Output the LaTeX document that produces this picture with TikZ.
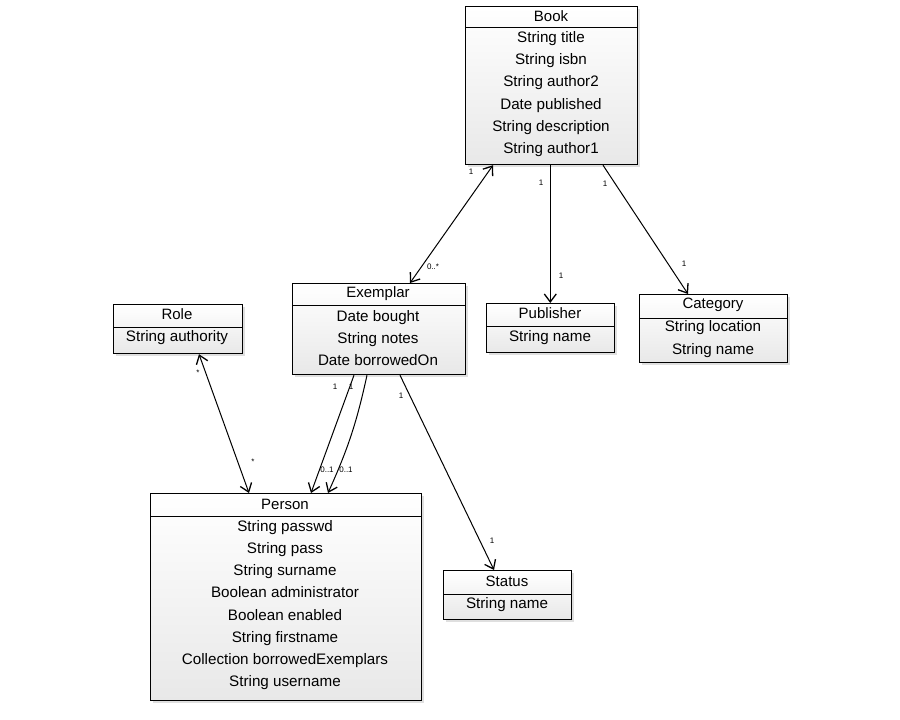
\documentclass[tikz,border=0pt]{standalone}
\usepackage{fontspec}
\setmainfont{Liberation Sans}
\usetikzlibrary{arrows.meta,shadows}
\begin{document}
\begin{tikzpicture}[x=1pt,y=-1pt,
  classbox/.style={draw=black, line width=1.2pt, top color=white, bottom color=black!9,
    drop shadow={opacity=0.25,shadow xshift=2.5pt,shadow yshift=-2.5pt},
    inner sep=0pt, anchor=north west},
  hdr/.style={line width=1pt},
  ttl/.style={font=\fontsize{15}{17}\selectfont, inner sep=0pt},
  attrs/.style={font=\fontsize{15.2}{22.2}\selectfont, align=center, inner sep=0pt},
  mult/.style={font=\fontsize{8}{9}\selectfont, inner sep=0pt},
  assoc/.style={line width=1pt, -{Straight Barb[length=8pt,width=12pt,line width=1.3pt]}},
  biassoc/.style={line width=1pt, {Straight Barb[length=8pt,width=12pt,line width=1.3pt]}-{Straight Barb[length=8pt,width=12pt,line width=1.3pt]}}
]
\useasboundingbox (0,0) rectangle (900,720);
\fill[white] (0,0) rectangle (900,720);

% Book
\node[classbox, minimum width=172pt, minimum height=158pt] (book) at (465,6) {};
\draw[hdr] ([yshift=-21pt]book.north west) -- ([yshift=-21pt]book.north east);
\node[ttl] (bookT) at (551,16) {Book};
\node[attrs] (bookA) at (551,94) {String title\\String isbn\\String author2\\Date published\\String description\\String author1};

% Exemplar
\node[classbox, minimum width=173pt, minimum height=91pt] (exemplar) at (292,283) {};
\draw[hdr] ([yshift=-22pt]exemplar.north west) -- ([yshift=-22pt]exemplar.north east);
\node[ttl] (exemplarT) at (378,294) {Exemplar};
\node[attrs] (exemplarA) at (378,338) {Date bought\\String notes\\Date borrowedOn};

% Role
\node[classbox, minimum width=129pt, minimum height=49pt] (role) at (113,304) {};
\draw[hdr] ([yshift=-23pt]role.north west) -- ([yshift=-23pt]role.north east);
\node[ttl] (roleT) at (177,314) {Role};
\node[attrs] (roleA) at (177,338) {String authority};

% Publisher
\node[classbox, minimum width=128pt, minimum height=49pt] (publisher) at (486,303) {};
\draw[hdr] ([yshift=-23pt]publisher.north west) -- ([yshift=-23pt]publisher.north east);
\node[ttl] (publisherT) at (550,313) {Publisher};
\node[attrs] (publisherA) at (550,338) {String name};

% Category
\node[classbox, minimum width=148pt, minimum height=68pt] (category) at (639,294) {};
\draw[hdr] ([yshift=-24pt]category.north west) -- ([yshift=-24pt]category.north east);
\node[ttl] (categoryT) at (713,305) {Category};
\node[attrs] (categoryA) at (713,339) {String location\\String name};

% Person
\node[classbox, minimum width=271pt, minimum height=207pt] (person) at (150,493) {};
\draw[hdr] ([yshift=-23pt]person.north west) -- ([yshift=-23pt]person.north east);
\node[ttl] (personT) at (285,504) {Person};
\node[attrs] (personA) at (285,605) {String passwd\\String pass\\String surname\\Boolean administrator\\Boolean enabled\\String firstname\\Collection borrowedExemplars\\String username};

% Status
\node[classbox, minimum width=128pt, minimum height=49pt] (status) at (443,570) {};
\draw[hdr] ([yshift=-24pt]status.north west) -- ([yshift=-24pt]status.north east);
\node[ttl] (statusT) at (507,581) {Status};
\node[attrs] (statusA) at (507,605) {String name};

% Connectors
\draw[biassoc] ([xshift=28pt]book.south west) -- ([xshift=118pt]exemplar.north west);
\draw[assoc] ([xshift=85.3pt]book.south west) -- ([xshift=64.3pt]publisher.north west);
\draw[assoc] ([xshift=138pt]book.south west) -- ([xshift=49pt]category.north west);
\draw[biassoc] ([xshift=86pt]role.south west) -- ([xshift=99pt]person.north west);
\draw[assoc] ([xshift=62pt]exemplar.south west) -- ([xshift=161pt]person.north west);
\draw[assoc] ([xshift=75pt]exemplar.south west) to[bend left=6] ([xshift=178pt]person.north west);
\draw[assoc] ([xshift=108pt]exemplar.south west) -- ([xshift=51pt]status.north west);

% Multiplicities
\node[mult] (m1) at (471,172) {1};
\node[mult] (m2) at (433,267) {0..*};
\node[mult] (m3) at (541,183) {1};
\node[mult] (m4) at (561,276) {1};
\node[mult] (m5) at (605,184) {1};
\node[mult] (m6) at (684,264) {1};
\node[mult] (m7) at (198,373) {*};
\node[mult] (m8) at (253,462) {*};
\node[mult] (m9) at (335,387) {1};
\node[mult] (m10) at (351,387) {1};
\node[mult] (m11) at (327,470) {0..1};
\node[mult] (m12) at (346,470) {0..1};
\node[mult] (m13) at (401,396) {1};
\node[mult] (m14) at (492,541) {1};
\end{tikzpicture}
\end{document}
